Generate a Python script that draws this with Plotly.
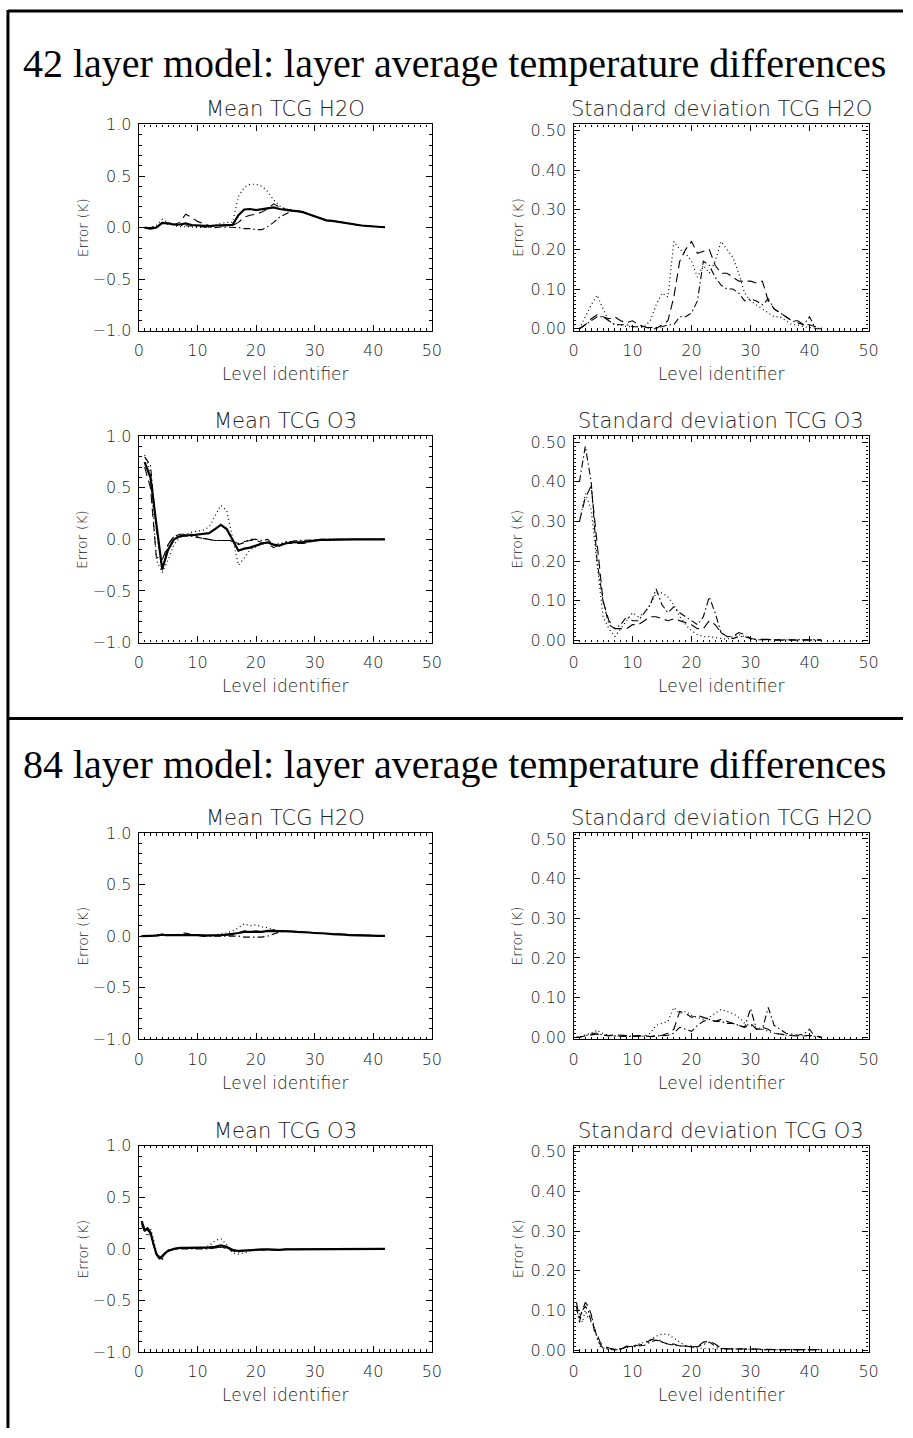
import plotly.graph_objects as go

W, H = 913, 1438

# ---------------------------------------------------------------- levels
x42 = list(range(1, 43))
x84 = [0.5, 1.0, 1.5, 2.0, 2.5, 3.0, 3.5, 4.0, 4.5, 5.0] + list(range(6, 43))

x_ticks = [0, 10, 20, 30, 40, 50]
mean_ticks = [-1.0, -0.5, 0.0, 0.5, 1.0]
std_ticks = [0.0, 0.1, 0.2, 0.3, 0.4, 0.5]

# ---------------------------------------------------------------- 42 layer model
h2o42_mean_solid = [0.0, -0.01, 0.0, 0.045, 0.04, 0.03, 0.03, 0.04, 0.025, 0.02,
                    0.015, 0.015, 0.02, 0.025, 0.025, 0.025, 0.12, 0.175, 0.18, 0.17,
                    0.18, 0.19, 0.195, 0.18, 0.17, 0.165, 0.16, 0.15, 0.13, 0.11,
                    0.085, 0.07, 0.065, 0.055, 0.045, 0.035, 0.025, 0.02, 0.015, 0.01, 0.005, 0.003]
h2o42_mean_dot = [0.0, 0.0, 0.02, 0.08, 0.05, 0.02, 0.01, 0.01, 0.005, 0.0,
                  0.0, 0.005, 0.02, 0.04, 0.05, 0.05, 0.3, 0.39, 0.42, 0.42,
                  0.4, 0.35, 0.27, 0.21, 0.18, 0.17, 0.16, 0.15, 0.13, 0.11,
                  0.085, 0.07, 0.065, 0.055, 0.045, 0.035, 0.025, 0.02, 0.015, 0.01, 0.005, 0.003]
h2o42_mean_dash = [0.0, 0.0, 0.01, 0.04, 0.04, 0.03, 0.05, 0.13, 0.1, 0.06,
                   0.04, 0.02, 0.015, 0.015, 0.02, 0.02, 0.05, 0.1, 0.12, 0.13,
                   0.15, 0.18, 0.23, 0.2, 0.18, 0.17, 0.16, 0.15, 0.13, 0.11,
                   0.085, 0.07, 0.065, 0.055, 0.045, 0.035, 0.025, 0.02, 0.015, 0.01, 0.005, 0.003]
h2o42_mean_dashdot = [0.0, -0.01, 0.0, 0.05, 0.03, 0.03, 0.02, 0.02, 0.015, 0.01,
                      0.005, 0.0, 0.0, 0.005, 0.005, 0.005, 0.0, -0.01, -0.01, -0.02,
                      -0.02, 0.01, 0.05, 0.1, 0.13, 0.16, 0.16, 0.15, 0.13, 0.11,
                      0.085, 0.07, 0.065, 0.055, 0.045, 0.035, 0.025, 0.02, 0.015, 0.01, 0.005, 0.003]

h2o42_std_dot = [0.0, 0.03, 0.06, 0.085, 0.05, 0.02, 0.01, 0.01, 0.005, 0.005,
                 0.005, 0.005, 0.02, 0.06, 0.09, 0.08, 0.22, 0.2, 0.19, 0.17,
                 0.13, 0.16, 0.14, 0.17, 0.22, 0.2, 0.18, 0.14, 0.09, 0.07,
                 0.06, 0.05, 0.04, 0.03, 0.03, 0.02, 0.01, 0.01, 0.005, 0.003, 0.002, 0.0]
h2o42_std_dash = [0.0, 0.01, 0.025, 0.035, 0.03, 0.025, 0.03, 0.02, 0.015, 0.02,
                  0.01, 0.005, 0.0, 0.0, 0.01, 0.02, 0.08, 0.17, 0.2, 0.22,
                  0.19, 0.195, 0.2, 0.16, 0.14, 0.14, 0.13, 0.12, 0.12, 0.12,
                  0.115, 0.12, 0.07, 0.05, 0.04, 0.03, 0.02, 0.02, 0.01, 0.01, 0.005, 0.003]
h2o42_std_dashdot = [0.0, 0.01, 0.02, 0.03, 0.03, 0.02, 0.01, 0.01, 0.01, 0.005,
                     0.005, 0.003, 0.003, 0.003, 0.005, 0.01, 0.01, 0.03, 0.03, 0.04,
                     0.07, 0.17, 0.16, 0.13, 0.11, 0.1, 0.1, 0.09, 0.07, 0.075,
                     0.07, 0.06, 0.075, 0.05, 0.04, 0.03, 0.02, 0.015, 0.01, 0.03, 0.0, 0.0]

o342_mean_solid = [0.75, 0.6, 0.15, -0.29, -0.1, 0.0, 0.03, 0.04, 0.04, 0.045,
                   0.05, 0.06, 0.1, 0.14, 0.1, 0.0, -0.11, -0.09, -0.08, -0.06,
                   -0.04, -0.03, -0.05, -0.06, -0.04, -0.03, -0.03, -0.025, -0.02, -0.01,
                   -0.005, -0.005, -0.003, 0.0, 0.0, 0.0, 0.0, 0.0, 0.0, 0.0, 0.0, 0.0]
o342_mean_dot = [0.82, 0.65, -0.2, -0.32, -0.2, -0.05, 0.02, 0.05, 0.07, 0.08,
                 0.09, 0.12, 0.22, 0.33, 0.28, 0.0, -0.25, -0.18, -0.1, -0.07,
                 -0.05, -0.03, -0.05, -0.04, -0.03, -0.02, -0.02, -0.015, -0.01, -0.005,
                 0.0, 0.0, 0.0, 0.0, 0.0, 0.0, 0.0, 0.0, 0.0, 0.0, 0.0, 0.0]
o342_mean_dash = [0.7, 0.5, -0.17, -0.2, -0.05, 0.03, 0.05, 0.05, 0.05, 0.03,
                  0.01, 0.0, -0.01, -0.01, -0.01, -0.02, -0.04, -0.02, -0.01, -0.01,
                  -0.03, -0.04, -0.08, -0.05, -0.04, -0.04, -0.04, -0.04, -0.03, -0.01,
                  -0.005, 0.0, 0.0, 0.0, 0.0, 0.0, 0.0, 0.0, 0.0, 0.0, 0.0, 0.0]
o342_mean_dashdot = [0.8, 0.72, 0.1, -0.3, -0.05, 0.03, 0.03, 0.03, 0.03, 0.02,
                     0.01, 0.0, -0.01, -0.01, -0.01, -0.01, -0.05, -0.03, 0.0, 0.0,
                     -0.01, 0.0, -0.06, -0.06, -0.02, -0.02, -0.01, -0.01, -0.005, -0.005,
                     0.0, 0.0, 0.0, 0.0, 0.0, 0.0, 0.0, 0.0, 0.0, 0.0, 0.0, 0.0]

o342_std_dot = [0.30, 0.37, 0.33, 0.2, 0.06, 0.03, 0.01, 0.03, 0.05, 0.07,
                0.06, 0.07, 0.09, 0.12, 0.12, 0.11, 0.09, 0.06, 0.04, 0.025,
                0.015, 0.01, 0.01, 0.008, 0.005, 0.003, 0.01, 0.015, 0.01, 0.004,
                0.002, 0.002, 0.002, 0.002, 0.002, 0.002, 0.002, 0.002, 0.002, 0.002, 0.002, 0.002]
o342_std_dash = [0.30, 0.36, 0.39, 0.25, 0.1, 0.05, 0.03, 0.03, 0.03, 0.04,
                 0.04, 0.05, 0.06, 0.06, 0.055, 0.05, 0.055, 0.05, 0.045, 0.04,
                 0.03, 0.03, 0.05, 0.04, 0.02, 0.01, 0.01, 0.02, 0.015, 0.005,
                 0.003, 0.003, 0.003, 0.001, 0.001, 0.001, 0.001, 0.001, 0.001, 0.001, 0.001, 0.001]
o342_std_dashdot = [0.4, 0.49, 0.4, 0.2, 0.1, 0.04, 0.03, 0.04, 0.06, 0.05,
                    0.05, 0.07, 0.09, 0.13, 0.09, 0.07, 0.085, 0.07, 0.06, 0.05,
                    0.04, 0.06, 0.11, 0.07, 0.02, 0.01, 0.005, 0.01, 0.01, 0.005,
                    0.002, 0.002, 0.002, 0.002, 0.002, 0.002, 0.002, 0.002, 0.002, 0.002, 0.002, 0.002]

# ---------------------------------------------------------------- 84 layer model
h2o84_mean_solid = [0.0, 0.0, 0.0, 0.0, 0.005, 0.005, 0.01, 0.015, 0.01, 0.01,
                    0.01, 0.01, 0.015, 0.01, 0.01, 0.005, 0.005, 0.01, 0.01, 0.015,
                    0.02, 0.03, 0.04, 0.04, 0.045, 0.04, 0.05, 0.05, 0.045, 0.045,
                    0.045, 0.04, 0.04, 0.035, 0.03, 0.03, 0.025, 0.02, 0.02, 0.015,
                    0.01, 0.01, 0.01, 0.005, 0.005, 0.003, 0.002]
h2o84_mean_dot = [0.0, 0.0, 0.0, 0.005, 0.01, 0.01, 0.015, 0.02, 0.01, 0.01,
                  0.01, 0.01, 0.01, 0.005, 0.005, 0.005, 0.005, 0.01, 0.02, 0.03,
                  0.05, 0.08, 0.12, 0.1, 0.11, 0.09, 0.08, 0.06, 0.05, 0.045,
                  0.045, 0.04, 0.04, 0.035, 0.03, 0.03, 0.025, 0.02, 0.02, 0.015,
                  0.01, 0.01, 0.01, 0.005, 0.005, 0.003, 0.002]
h2o84_mean_dash = [0.0, 0.0, 0.0, 0.0, 0.005, 0.01, 0.01, 0.01, 0.01, 0.01,
                   0.01, 0.02, 0.03, 0.015, 0.01, 0.005, 0.005, 0.005, 0.01, 0.01,
                   0.01, 0.03, 0.05, 0.04, 0.05, 0.04, 0.05, 0.06, 0.05, 0.045,
                   0.045, 0.04, 0.04, 0.035, 0.03, 0.03, 0.025, 0.02, 0.02, 0.015,
                   0.01, 0.01, 0.01, 0.005, 0.005, 0.003, 0.002]
h2o84_mean_dashdot = [0.0, 0.0, 0.0, 0.0, 0.005, 0.005, 0.01, 0.01, 0.01, 0.01,
                      0.01, 0.01, 0.01, 0.005, 0.005, 0.0, 0.0, 0.0, 0.005, 0.005,
                      0.005, 0.0, -0.01, -0.01, -0.01, -0.01, 0.0, 0.02, 0.04, 0.045,
                      0.045, 0.04, 0.04, 0.035, 0.03, 0.03, 0.025, 0.02, 0.02, 0.015,
                      0.01, 0.01, 0.01, 0.005, 0.005, 0.003, 0.002]

h2o84_std_dot = [0.0, 0.0, 0.003, 0.005, 0.008, 0.01, 0.013, 0.018, 0.012, 0.01,
                 0.005, 0.003, 0.003, 0.003, 0.003, 0.003, 0.003, 0.01, 0.03, 0.035,
                 0.04, 0.075, 0.06, 0.065, 0.055, 0.05, 0.045, 0.05, 0.06, 0.07,
                 0.065, 0.06, 0.05, 0.035, 0.03, 0.025, 0.02, 0.015, 0.01, 0.008,
                 0.005, 0.005, 0.004, 0.003, 0.003, 0.002, 0.002]
h2o84_std_dash = [0.0, 0.0, 0.002, 0.003, 0.005, 0.005, 0.006, 0.008, 0.006, 0.005,
                  0.004, 0.006, 0.005, 0.003, 0.003, 0.004, 0.003, 0.002, 0.003, 0.005,
                  0.01, 0.02, 0.065, 0.06, 0.05, 0.055, 0.05, 0.045, 0.04, 0.045,
                  0.04, 0.035, 0.03, 0.025, 0.035, 0.02, 0.025, 0.02, 0.01, 0.008,
                  0.005, 0.004, 0.003, 0.003, 0.005, 0.002, 0.001]
h2o84_std_dashdot = [0.0, 0.0, 0.002, 0.004, 0.005, 0.008, 0.01, 0.01, 0.008, 0.005,
                     0.004, 0.003, 0.003, 0.002, 0.002, 0.003, 0.003, 0.002, 0.003, 0.005,
                     0.005, 0.01, 0.025, 0.02, 0.015, 0.03, 0.04, 0.045, 0.04, 0.04,
                     0.035, 0.035, 0.03, 0.025, 0.072, 0.02, 0.02, 0.075, 0.03, 0.02,
                     0.01, 0.008, 0.005, 0.008, 0.02, 0.0, 0.0]

o384_mean_solid = [0.27, 0.18, 0.2, 0.16, 0.05, -0.05, -0.09, -0.07, -0.04, -0.02,
                   0.0, 0.01, 0.01, 0.01, 0.01, 0.015, 0.015, 0.02, 0.035, 0.02,
                   -0.01, -0.02, -0.015, -0.01, -0.005, -0.005, -0.005, -0.01, -0.01, -0.005,
                   -0.005, -0.005, -0.003, -0.003, -0.002, -0.002, 0.0, 0.0, 0.0, 0.0,
                   0.0, 0.0, 0.0, 0.0, 0.0, 0.0, 0.0]
o384_mean_dot = [0.25, 0.2, 0.12, 0.2, 0.1, -0.03, -0.1, -0.09, -0.05, -0.02,
                 0.0, 0.01, 0.01, 0.01, 0.01, 0.01, 0.03, 0.08, 0.1, 0.04,
                 -0.04, -0.05, -0.04, -0.02, -0.01, -0.01, -0.005, -0.01, -0.01, -0.005,
                 -0.005, -0.005, -0.003, -0.003, -0.002, -0.002, 0.0, 0.0, 0.0, 0.0,
                 0.0, 0.0, 0.0, 0.0, 0.0, 0.0, 0.0]
o384_mean_dash = [0.22, 0.19, 0.18, 0.15, 0.05, -0.04, -0.08, -0.08, -0.04, -0.01,
                  0.0, 0.01, 0.01, 0.01, 0.01, 0.01, 0.01, 0.01, 0.02, 0.0,
                  -0.02, -0.02, -0.02, -0.015, -0.01, -0.01, -0.01, -0.015, -0.01, -0.005,
                  -0.005, -0.005, -0.003, -0.003, -0.002, -0.002, 0.0, 0.0, 0.0, 0.0,
                  0.0, 0.0, 0.0, 0.0, 0.0, 0.0, 0.0]
o384_mean_dashdot = [0.24, 0.16, 0.2, 0.13, 0.04, -0.05, -0.07, -0.1, -0.05, -0.02,
                     0.0, 0.0, 0.005, 0.005, 0.005, 0.0, 0.0, 0.01, 0.015, 0.01,
                     -0.02, -0.03, -0.02, -0.01, -0.01, -0.005, -0.005, -0.01, -0.005, -0.005,
                     -0.005, -0.005, -0.003, -0.003, -0.002, -0.002, 0.0, 0.0, 0.0, 0.0,
                     0.0, 0.0, 0.0, 0.0, 0.0, 0.0, 0.0]

o384_std_dot = [0.1, 0.09, 0.07, 0.1, 0.08, 0.09, 0.06, 0.03, 0.01, 0.005,
                0.002, 0.002, 0.003, 0.005, 0.01, 0.015, 0.02, 0.025, 0.035, 0.04,
                0.04, 0.03, 0.02, 0.01, 0.008, 0.005, 0.004, 0.003, 0.003, 0.003,
                0.003, 0.002, 0.002, 0.002, 0.002, 0.001, 0.001, 0.001, 0.001, 0.001,
                0.001, 0.001, 0.001, 0.001, 0.001, 0.001, 0.001]
o384_std_dash = [0.12, 0.08, 0.1, 0.12, 0.11, 0.09, 0.05, 0.04, 0.02, 0.01,
                 0.005, 0.002, 0.003, 0.008, 0.01, 0.012, 0.015, 0.025, 0.03, 0.02,
                 0.015, 0.015, 0.01, 0.01, 0.008, 0.008, 0.02, 0.022, 0.015, 0.005,
                 0.003, 0.003, 0.003, 0.002, 0.002, 0.002, 0.002, 0.002, 0.001, 0.001,
                 0.001, 0.001, 0.001, 0.001, 0.001, 0.001, 0.001]
o384_std_dashdot = [0.11, 0.07, 0.1, 0.11, 0.1, 0.07, 0.06, 0.03, 0.015, 0.005,
                    0.002, 0.0, 0.002, 0.01, 0.008, 0.01, 0.012, 0.02, 0.025, 0.02,
                    0.015, 0.012, 0.01, 0.01, 0.01, 0.008, 0.015, 0.02, 0.01, 0.004,
                    0.003, 0.003, 0.002, 0.002, 0.002, 0.002, 0.001, 0.001, 0.001, 0.001,
                    0.001, 0.001, 0.001, 0.001, 0.001, 0.001, 0.001]

# ---------------------------------------------------------------- styling
SANS = "DejaVu Sans"
SERIF = "Liberation Serif"
INK = "#222222"

STYLES = {
    "solid": dict(dash="solid", width=2.2),
    "dot": dict(dash="1px,3px", width=1.2),
    "dash": dict(dash="9px,5px", width=1.1),
    "dashdot": dict(dash="7px,3px,1.5px,3px", width=1.1),
}

# pixel layout of the page
LEFT_X = (136, 434)
RIGHT_X = (578, 878)
ROW_TOPS = [117, 433, 835, 1152]
PLOT_H = 209

panels = [
    # (row, col, title, kind, x, series)
    (0, 0, "Mean TCG H2O", "mean", x42,
     [("solid", h2o42_mean_solid), ("dot", h2o42_mean_dot),
      ("dash", h2o42_mean_dash), ("dashdot", h2o42_mean_dashdot)]),
    (0, 1, "Standard deviation TCG H2O", "std", x42,
     [("dot", h2o42_std_dot), ("dash", h2o42_std_dash), ("dashdot", h2o42_std_dashdot)]),
    (1, 0, "Mean TCG O3", "mean", x42,
     [("solid", o342_mean_solid), ("dot", o342_mean_dot),
      ("dash", o342_mean_dash), ("dashdot", o342_mean_dashdot)]),
    (1, 1, "Standard deviation TCG O3", "std", x42,
     [("dot", o342_std_dot), ("dash", o342_std_dash), ("dashdot", o342_std_dashdot)]),
    (2, 0, "Mean TCG H2O", "mean", x84,
     [("solid", h2o84_mean_solid), ("dot", h2o84_mean_dot),
      ("dash", h2o84_mean_dash), ("dashdot", h2o84_mean_dashdot)]),
    (2, 1, "Standard deviation TCG H2O", "std", x84,
     [("dot", h2o84_std_dot), ("dash", h2o84_std_dash), ("dashdot", h2o84_std_dashdot)]),
    (3, 0, "Mean TCG O3", "mean", x84,
     [("solid", o384_mean_solid), ("dot", o384_mean_dot),
      ("dash", o384_mean_dash), ("dashdot", o384_mean_dashdot)]),
    (3, 1, "Standard deviation TCG O3", "std", x84,
     [("dot", o384_std_dot), ("dash", o384_std_dash), ("dashdot", o384_std_dashdot)]),
]


def px_x(p):
    return p / W


def px_y(p):
    return 1 - p / H


fig = go.Figure()
layout = {}
annotations = []
tick_font = dict(family=SANS, size=16, color=INK, weight=300)

for i, (row, col, title, kind, xs, series) in enumerate(panels, start=1):
    xr = LEFT_X if col == 0 else RIGHT_X
    top = ROW_TOPS[row]
    bottom = top + PLOT_H
    xa = "x" if i == 1 else f"x{i}"
    ya = "y" if i == 1 else f"y{i}"

    for style, ys in series:
        st = STYLES[style]
        fig.add_trace(go.Scatter(
            x=xs, y=ys, mode="lines", xaxis=xa, yaxis=ya, showlegend=False,
            line=dict(color="black", width=st["width"], dash=st["dash"]),
            hoverinfo="skip",
        ))

    common = dict(
        showline=True, linecolor="black", linewidth=1.2, mirror="allticks",
        ticks="inside", tickcolor="black", tickwidth=1, showgrid=False,
        zeroline=False, tickfont=tick_font,
    )
    layout["xaxis" if i == 1 else f"xaxis{i}"] = dict(
        common, domain=[px_x(xr[0]), px_x(xr[1])], anchor=ya,
        range=[0, 50], tickvals=x_ticks, ticklen=6, ticklabelstandoff=5,
        minor=dict(ticks="inside", dtick=1, ticklen=2.5, tickcolor="black", tickwidth=1),
    )
    if kind == "mean":
        yopts = dict(range=[-1.0, 1.0], tickvals=mean_ticks, tickformat=".1f",
                     minor=dict(ticks="inside", dtick=0.1, ticklen=3,
                                tickcolor="black", tickwidth=1))
    else:
        yopts = dict(range=[-0.005, 0.515], tickvals=std_ticks, tickformat=".2f",
                     minor=dict(ticks="inside", dtick=0.01, ticklen=2.5,
                                tickcolor="black", tickwidth=1))
    layout["yaxis" if i == 1 else f"yaxis{i}"] = dict(
        common, domain=[px_y(bottom), px_y(top)], anchor=xa, ticklen=6,
        ticklabelstandoff=3, **yopts,
    )

    cx = (xr[0] + xr[1]) / 2
    annotations.append(dict(
        text=title, x=px_x(cx), y=px_y(top - 1), xref="paper", yref="paper",
        xanchor="center", yanchor="bottom", showarrow=False,
        font=dict(family=SANS, size=21, color=INK, weight=300),
    ))
    annotations.append(dict(
        text="Level identifier", x=px_x(cx), y=px_y(bottom + 44), xref="paper",
        yref="paper", xanchor="center", yanchor="middle", showarrow=False,
        font=dict(family=SANS, size=17, color=INK, weight=300),
    ))
    annotations.append(dict(
        text="Error (K)", x=px_x(xr[0] - 57), y=px_y(top + PLOT_H / 2),
        xref="paper", yref="paper", xanchor="center", yanchor="middle",
        textangle=-90, showarrow=False,
        font=dict(family=SANS, size=14, color=INK, weight=300),
    ))

for text, yc in [("42 layer model: layer average temperature differences", 55),
                 ("84 layer model: layer average temperature differences", 766)]:
    annotations.append(dict(
        text=text, x=0.5, y=px_y(yc), xref="paper", yref="paper",
        xanchor="center", yanchor="middle", showarrow=False,
        font=dict(family=SERIF, size=40, color="black"),
    ))

# page frame and the rule separating the two models
shapes = [
    dict(type="line", xref="paper", yref="paper", x0=px_x(3), x1=1.0,
         y0=px_y(2), y1=px_y(2), line=dict(color="black", width=3)),
    dict(type="line", xref="paper", yref="paper", x0=px_x(3), x1=px_x(3),
         y0=0.0, y1=px_y(1), line=dict(color="black", width=3)),
    dict(type="line", xref="paper", yref="paper", x0=px_x(3), x1=1.0,
         y0=px_y(719), y1=px_y(719), line=dict(color="black", width=3)),
]

fig.update_layout(
    width=W, height=H, margin=dict(l=0, r=0, t=0, b=0),
    paper_bgcolor="white", plot_bgcolor="white",
    annotations=annotations, shapes=shapes, **layout,
)

fig.write_html("out.html")
